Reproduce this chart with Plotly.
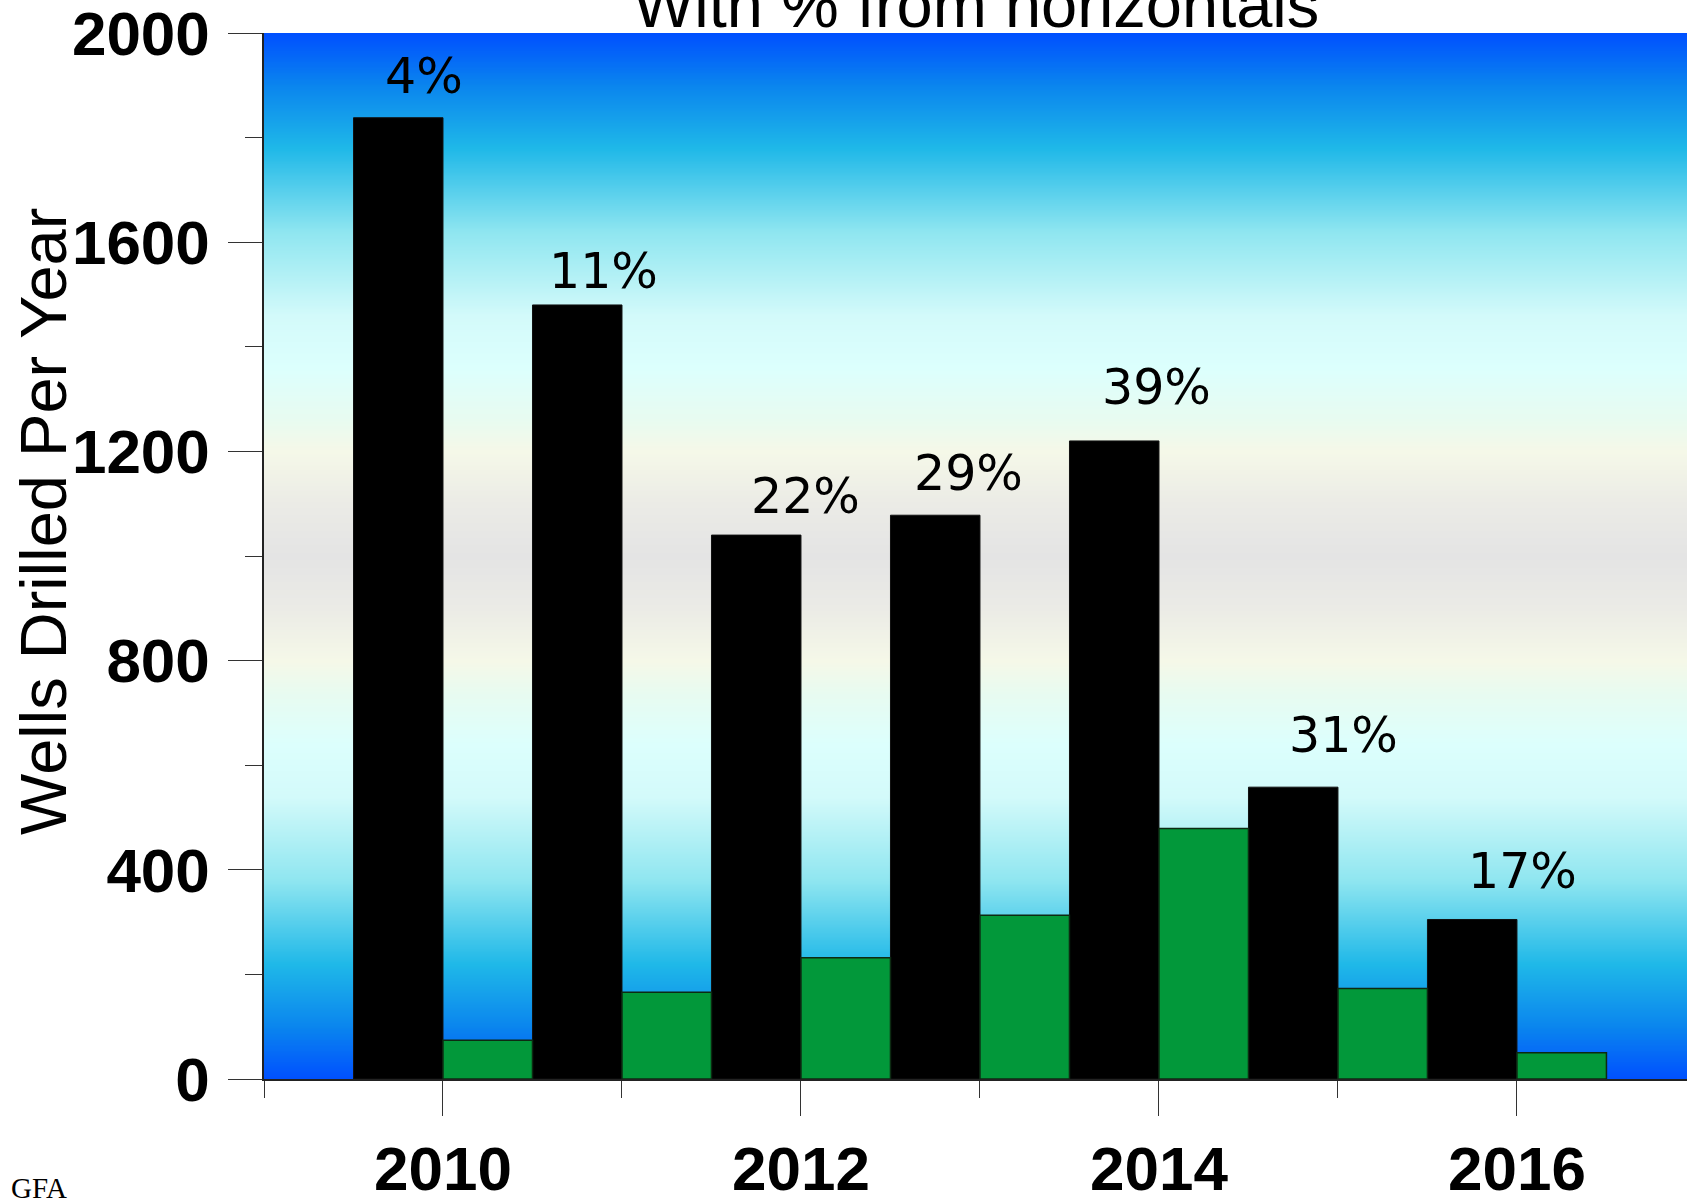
import numpy as np
import plotly.graph_objects as go

# ---- data ----
years = [2010, 2011, 2012, 2013, 2014, 2015, 2016]
total_wells = [1838, 1480, 1040, 1078, 1220, 558, 305]
horizontal_wells = [74, 166, 232, 313, 479, 173, 50]
pct_labels = ["4%", "11%", "22%", "29%", "39%", "31%", "17%"]
x_tick_vals = [2010, 2012, 2014, 2016]
x_tick_text = ["2010", "2012", "2014", "2016"]
y_tick_vals = [0, 400, 800, 1200, 1600, 2000]
y_tick_text = ["0", "400", "800", "1200", "1600", "2000"]

# ---- style / layout nudges (pixels) ----
label_xshift = [26, 26, 49, 33, 42, 50, 50]
label_yshift = [11, 3, 8, 11, 23, 21, 17]

X_RANGE = [2009, 2016.95]
Y_RANGE = [0, 2000]

bg_scale = [
    [0.00, "#0050ff"], [0.05, "#0a85ee"], [0.11, "#1fb8e8"], [0.19, "#8fe6f0"],
    [0.27, "#d3fafa"], [0.32, "#dcfffd"], [0.37, "#e8fbf0"], [0.40, "#f5f8e8"],
    [0.45, "#ebebe6"], [0.50, "#e4e4e4"], [0.55, "#ebebe6"], [0.60, "#f5f8e8"],
    [0.63, "#e8fbf0"], [0.68, "#dcfffd"], [0.73, "#d3fafa"], [0.81, "#8fe6f0"],
    [0.89, "#1fb8e8"], [0.95, "#0a85ee"], [1.00, "#0050ff"],
]

fig = go.Figure()

# gradient background of plot area (heatmap keyed to the y scale)
bg_y = np.linspace(Y_RANGE[0] - 20, Y_RANGE[1] + 20, 445)
fig.add_trace(go.Heatmap(
    x=[X_RANGE[0] - 1, X_RANGE[1] + 1], y=bg_y,
    z=[[v, v] for v in bg_y], zmin=Y_RANGE[0], zmax=Y_RANGE[1],
    colorscale=bg_scale, showscale=False, zsmooth="best", hoverinfo="skip",
))

fig.add_trace(go.Bar(
    x=years, y=total_wells, width=0.5, offset=-0.5,
    marker=dict(color="black", line=dict(color="#111111", width=1)),
    hoverinfo="skip",
))
fig.add_trace(go.Bar(
    x=years, y=horizontal_wells, width=0.5, offset=0,
    marker=dict(color="#02983a", line=dict(color="#0d2a12", width=1.5)),
    hoverinfo="skip",
))

annotations = []
for yr, val, txt, dx, dy in zip(years, total_wells, pct_labels, label_xshift, label_yshift):
    annotations.append(dict(
        x=yr - 0.25, y=val, xref="x", yref="y", text=txt, showarrow=False,
        xanchor="center", yanchor="bottom", xshift=dx, yshift=dy,
        font=dict(family="DejaVu Sans", size=49, color="black"),
    ))

# title (clipped at top)
annotations.append(dict(
    x=0.5, y=0.9866, xref="paper", yref="paper", text="With % from horizontals",
    showarrow=False, xanchor="center", yanchor="bottom", yshift=4,
    font=dict(family="Liberation Sans", size=65, color="black"),
))
# y-axis title
annotations.append(dict(
    x=-0.1553, y=0.5325, xref="paper", yref="paper", text="Wells Drilled Per Year",
    showarrow=False, xanchor="center", yanchor="middle", textangle=-90,
    font=dict(family="Liberation Sans", size=65, color="black"),
))
# source mark
annotations.append(dict(
    x=-0.179, y=-0.104, xref="paper", yref="paper", text="GFA",
    showarrow=False, xanchor="left", yanchor="middle",
    font=dict(family="Liberation Serif", size=29, color="black"),
))

fig.update_layout(
    width=1687, height=1199,
    margin=dict(l=264, r=0, t=33, b=120, autoexpand=False),
    paper_bgcolor="white", plot_bgcolor="white",
    showlegend=False, barmode="overlay", hovermode=False,
    annotations=annotations,
)
fig.update_xaxes(
    range=X_RANGE, tickmode="array", tickvals=x_tick_vals, ticktext=x_tick_text,
    ticks="outside", ticklen=35, tickwidth=1.2, tickcolor="#333333",
    showline=True, linecolor="#222222", linewidth=1.5, automargin=False,
    showgrid=False, zeroline=False, ticklabelstandoff=0, ticklabeloverflow="allow",
    tickfont=dict(family="Liberation Sans", size=62, color="black", weight="bold"),
    minor=dict(tickvals=[2009, 2011, 2013, 2015], ticks="outside", ticklen=17,
               tickwidth=1.2, tickcolor="#333333", showgrid=False),
)
fig.update_yaxes(
    range=Y_RANGE, tickmode="array", tickvals=y_tick_vals, ticktext=y_tick_text,
    ticks="outside", ticklen=34, tickwidth=1.2, tickcolor="#333333",
    showline=True, linecolor="#222222", linewidth=1.5, automargin=False,
    showgrid=False, zeroline=False, ticklabelstandoff=6, ticklabeloverflow="allow",
    tickfont=dict(family="Liberation Sans", size=62, color="black", weight="bold"),
    minor=dict(dtick=200, tick0=0, ticks="outside", ticklen=17,
               tickwidth=1.2, tickcolor="#333333", showgrid=False),
)

fig.write_html(
    "out.html",
    config={"displayModeBar": False},
    post_script="document.body.style.margin='0';document.body.style.overflow='hidden';",
)
